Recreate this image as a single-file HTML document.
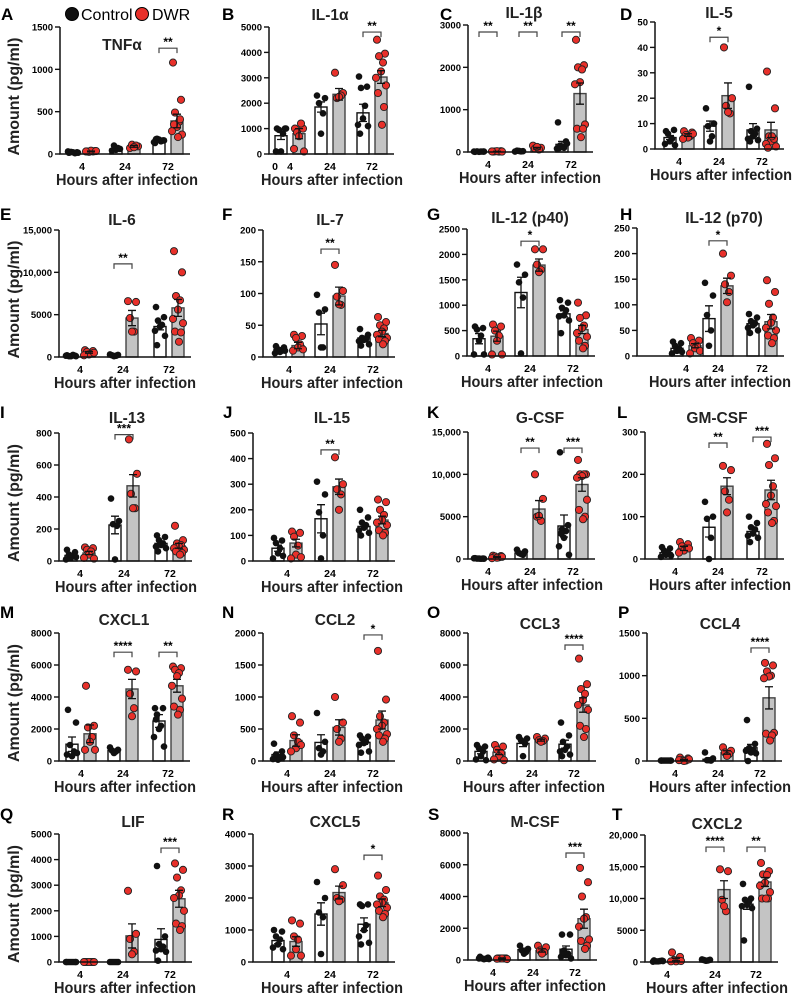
<!DOCTYPE html>
<html><head><meta charset="utf-8">
<style>
html,body{margin:0;padding:0;background:#fff;}
svg{display:block;font-family:"Liberation Sans",Arial,sans-serif;}
</style></head>
<body>
<svg id="fig" width="797" height="994" viewBox="0 0 797 994" xmlns="http://www.w3.org/2000/svg"></svg>
<script>
// ===== DATA =====
const panelLetters = ["A","B","C","D","E","F","G","H","I","J","K","L","M","N","O","P","Q","R","S","T"];
const panelTitles = ["TNFα","IL-1α","IL-1β","IL-5","IL-6","IL-7","IL-12 (p40)","IL-12 (p70)","IL-13","IL-15","G-CSF","GM-CSF","CXCL1","CCL2","CCL3","CCL4","LIF","CXCL5","M-CSF","CXCL2"];
const hourLabels = ["4","24","72"];
const yMaxes = [1500,5000,3000,50,15000,200,2500,250,800,500,15000,300,8000,2000,8000,1500,5000,4000,8000,20000];
const yTickSteps = [500,1000,1000,10,5000,50,500,50,200,100,5000,100,2000,500,2000,500,1000,1000,2000,5000];
const ctrlMeans = [[20,60,160],[720,1850,1620],[10,20,180],[4.5,9,7.5],[150,200,3600],[12,52,30],[340,1250,830],[15,73,63],[35,225,110],[50,165,135],[50,700,3900],[15,75,65],[1050,650,2500],[100,290,290],[600,1100,1050],[5,20,155],[0,0,880],[670,1500,1180],[100,650,680],[150,300,9100]];
const ctrlSems = [[5,15,10],[150,200,340],[2,5,70],[0.8,2,2.5],[30,50,400],[3,17,3],[100,300,60],[3,25,4],[10,55,15],[12,55,10],[20,150,1300],[3,23,8],[450,80,400],[40,120,30],[150,200,250],[1,10,40],[0,0,420],[100,350,200],[30,100,200],[50,80,800]];
const dwrMeans = [[30,90,390],[800,2350,3030],[15,90,1380],[5.5,21,7.5],[550,4600,5800],[18,96,37],[390,1790,520],[20,137,67],[50,470,95],[70,290,160],[250,5900,8800],[25,172,163],[1700,4500,4700],[320,525,640],[550,1300,3500],[15,100,740],[0,1020,2470],[640,2170,1850],[100,600,2600],[400,11400,12600]];
const dwrSems = [[5,10,80],[200,230,250],[3,20,250],[0.5,5,3],[100,900,1000],[5,14,5],[100,120,80],[4,15,14],[10,70,15],[15,30,15],[50,1000,800],[5,20,23],[550,600,400],[90,120,140],[150,60,450],[5,20,130],[0,470,330],[150,200,120],[30,100,600],[200,1400,700]];
const ctrlPoints = [
 [[15,20,25,10,20,30,15],[40,60,100,70,50],[130,160,180,150,170,140,160,175]],
 [[1000,1000,950,800,100,100,1000],[2300,2200,2000,1600,800],[3050,2650,2600,1900,1400,1150,1100,800]],
 [[5,10,15,10,5,10,10],[10,20,30,15,25],[700,250,150,100,120,80,200,90]],
 [[7,7.5,6,4,3,2,1.5],[16,10,9,5,3],[24.5,8,7,6,5,4,3.5,3]],
 [[200,150,100,250,100,150,100],[300,250,200,150,100],[5900,4700,4300,3800,3600,3100,2500,1400]],
 [[17,15,12,10,8,6,10],[98,75,70,15,15],[44,35,30,28,27,25,20,18]],
 [[580,550,520,400,300,30,30],[1800,1600,1450,1150,50],[1100,1050,950,900,800,780,700,450]],
 [[28,25,20,15,10,5,8],[143,118,80,50,20],[82,75,68,64,60,55,50,45]],
 [[70,55,40,30,20,10,25],[390,250,230,220,10],[160,150,130,110,100,90,80,60]],
 [[90,80,70,50,30,10,20],[310,260,190,100,10],[200,170,150,140,130,120,110,100]],
 [[100,50,50,30,50,80,40],[1100,900,700,500,600],[12600,4000,3500,3300,2500,1500,500,3000]],
 [[28,25,20,15,10,5,8],[135,100,95,50,0],[100,85,75,70,60,55,50,40]],
 [[3200,2400,1000,600,300,400,500],[850,700,650,600,500],[3300,3300,2900,2200,2000,1500,900,2600]],
 [[270,150,100,50,20,30,60],[750,300,200,150,100],[400,380,350,300,280,250,150,130]],
 [[1000,900,800,600,300,100,50],[1500,1400,1300,1100,300],[2400,1600,1200,900,700,600,400,300]],
 [[5,5,5,5,5,5,5],[100,30,10,5,10],[480,200,150,130,100,120,90,0]],
 [[0,0,0,0,0,0,0],[0,0,0,0,0],[3750,1000,700,600,500,450,400,50]],
 [[1000,950,800,700,550,450,400],[2500,2000,1550,1400,250],[1800,1800,1750,1150,1000,800,600,550]],
 [[200,150,100,80,50,100,60],[900,700,600,500,400],[1600,1600,600,400,300,200,100,500]],
 [[250,200,100,150,100,50,150],[400,350,300,250,200],[12300,10000,9800,9500,9000,8800,8500,3400]]
];
const dwrPoints = [
 [[30,35,25,30,40,30,35],[70,90,110,100,80],[1080,640,490,380,320,270,230,350,410,200]],
 [[1000,1000,850,1200,700,200,100],[3200,2400,2200,2300,2250],[4500,3950,3850,3600,3250,3000,2700,2400,1850,1150]],
 [[10,20,15,10,20,15,10],[150,100,80,60,120],[2650,2050,2000,1950,1650,1600,650,550,550,350]],
 [[7,6.5,5.5,5,4.5,4,6],[40,20,17,14,14.5],[30.5,16,5,4,3,2,1,0.5,4,5]],
 [[800,700,600,400,300,200,500],[6600,6500,4600,3000,3000],[12500,10000,7200,6700,5600,4500,4000,3000,2900,1800]],
 [[35,33,30,20,15,10,12],[145,104,95,82,83],[63,55,50,45,40,35,30,28,25,20]],
 [[620,580,500,400,300,30,30],[2100,2100,1800,1700,1650],[1050,800,750,600,550,450,380,300,200,150]],
 [[35,30,25,20,15,5,10],[200,157,140,125,105],[148,125,102,75,65,55,50,40,35,25]],
 [[85,80,70,60,40,20,15],[760,545,420,330,330],[220,130,110,100,90,80,70,60,50,40]],
 [[115,110,95,60,25,10,15],[405,300,280,260,200],[240,230,200,180,160,150,140,120,110,100]],
 [[400,350,300,200,150,100,250],[10000,7100,5000,4500,5100],[11700,10000,10000,10000,9800,9600,7000,5800,5000,4700]],
 [[40,35,30,25,20,15,25],[220,210,160,140,110],[272,238,222,172,150,130,125,110,90,85]],
 [[4700,2200,2100,1500,1200,700,700],[5700,5600,4200,3300,2800],[5900,5800,5700,5500,5300,4700,3900,3400,3200,2900]],
 [[700,600,400,300,200,150,250],[1000,600,500,350,300],[1720,960,700,600,550,500,420,400,350,300]],
 [[1000,900,700,500,300,100,50],[1500,1400,1300,1250,1200],[6400,4800,4500,4200,3800,3500,3200,2200,2000,1500]],
 [[40,30,10,5,0,10,20],[160,120,100,80,60],[1150,1120,1050,1000,990,970,330,320,300,240]],
 [[0,0,0,0,0,0,0],[2780,1100,900,400,300],[3850,3600,3300,2800,2600,2500,2000,1500,1400,1250]],
 [[1300,1200,800,700,400,200,200],[2900,2400,2000,1950,1900],[2700,2250,2050,1950,1850,1800,1700,1600,1500,1400]],
 [[100,100,100,100,100,80,60],[900,800,600,500,400],[5800,4900,4000,2700,2600,2100,1300,1200,900,700]],
 [[1500,800,300,200,100,100,150],[14600,14300,9800,8000,8800],[15600,14300,13800,13700,12500,12000,11000,10000,10000,10000]]
];
const sigLabels = [["","","**"],["","","**"],["**","**","**"],["","*",""],["","**",""],["","**",""],["","*",""],["","*",""],["","***",""],["","**",""],["","**","***"],["","**","***"],["","****","**"],["","","*"],["","","****"],["","","****"],["","","***"],["","","*"],["","","***"],["","****","**"]];
const sigLevels = [[0,0,1250],[0,0,4800],[2835,2835,2835],[0,44,0],[0,11000,0],[0,170,0],[0,2260,0],[0,225,0],[0,790,0],[0,434,0],[0,13100,13100],[0,274,288],[0,6800,6800],[0,0,1970],[0,0,7250],[0,0,1325],[0,0,4450],[0,0,3340],[0,0,6740],[0,18100,18100]];

// ===== LAYOUT (pixel geometry, not data) =====
// [axisX, topY, bottomY, g4, g24, g72, titleX, titleY, letterX, letterY]
const layout = [
 [60,27,154,82,125,168,122,50,1,20],[269,27,154,290,330,372,330,20,222,20],[468,25,152,488,528,571,524,18,440,20],[655,22,149,679,719,762,719,18,620,20],
 [59,230,357,80,123,169,122,225,0,220],[263,230,357,289,330,373,330,225,222,220],[467,229,356,488,530,573,530,223,427,220],[637,228,356,686,718,762,724,223,620,220],
 [59,433,561,80,124,170,127,423,0,418],[253,433,561,287,330,373,332,423,223,418],[468,432,559,488,530,573,540,423,427,418],[645,432,559,675,718,762,717,423,617,418],
 [59,633,761,81,123,168,124,625,0,618],[263,633,761,287,330,373,335,625,222,618],[468,633,761,490,532,574,540,629,427,618],[647,633,761,675,718,760,720,629,618,618],
 [59,834,962,80,123,170,133,827,0,820],[253,834,962,287,330,373,335,827,222,820],[468,833,960,493,533,575,535,827,428,820],[645,835,962,667,715,756,717,829,612,820]
];
const jitter = [-4,4,-2,2,0,-5,5,-3,3,1];

const NS = "http://www.w3.org/2000/svg";
const svg = document.getElementById("fig");
function mk(tag, attrs, parent){
  const e = document.createElementNS(NS, tag);
  for (const k in attrs) e.setAttribute(k, attrs[k]);
  (parent||svg).appendChild(e);
  return e;
}
function fmt(v){ return v>=10000 ? v.toLocaleString("en-US") : String(v); }

// Legend
const leg = mk("g",{});


let c1 = mk("circle",{cx:72,cy:14,r:6.5,fill:"#111",stroke:"#000"},leg);


let t1 = mk("text",{x:81,y:20,"font-size":"16"},leg); t1.textContent="Control";


let c2 = mk("circle",{cx:142,cy:14,r:6.5,fill:"#e8302a",stroke:"#000"},leg);


let t2 = mk("text",{x:152,y:20,"font-size":"16"},leg); t2.textContent="DWR";



for (let p=0;p<20;p++){
  const L = layout[p];
  const ax=L[0], top=L[1], bot=L[2], gx=[L[3],L[4],L[5]];
  const ymax=yMaxes[p];
  const yS = v => bot - (v/ymax)*(bot-top);
  const right = gx[2]+22;
  const g = mk("g",{});
  
  

  const lt = mk("text",{x:L[8],y:L[9],"font-size":"17","font-weight":"bold"},g);
  lt.textContent = panelLetters[p];
  
  

  const tt = mk("text",{x:L[6],y:L[7],"font-size":"15.5","font-weight":"bold","text-anchor":"middle",fill:"#222"},g);
  tt.textContent = panelTitles[p];
  
  

  for (let i=0;i<3;i++){
    const cx=gx[i]-9, dx=gx[i]+9;
    const cb = mk("rect",{x:cx-6,y:yS(ctrlMeans[p][i]),width:12,height:Math.max(0,bot-yS(ctrlMeans[p][i])),fill:"#fff",stroke:"#111","stroke-width":1.4},g);
    
    
    const db = mk("rect",{x:dx-6,y:yS(dwrMeans[p][i]),width:12,height:Math.max(0,bot-yS(dwrMeans[p][i])),fill:"#c4c4c4",stroke:"#444","stroke-width":1.4},g);
    
    
    ctrlPoints[p][i].forEach((v,k)=>{
      const pt = mk("circle",{cx:cx+jitter[k%10],cy:yS(v),r:3.3,fill:"#111"},g);
      
      
    });
    dwrPoints[p][i].forEach((v,k)=>{
      const pt = mk("circle",{cx:dx+jitter[k%10],cy:yS(v),r:3.6,fill:"#e8302a",stroke:"#222","stroke-width":0.9},g);
      
      
    });
    [[cx,ctrlMeans[p][i],ctrlSems[p][i]],[dx,dwrMeans[p][i],dwrSems[p][i]]].forEach(([x,m,s])=>{
      if (s<=0) return;
      const a=yS(m+s), b=yS(Math.max(0,m-s));
      const eb = mk("path",{d:`M${x},${a}V${b}M${x-4},${a}H${x+4}M${x-4},${b}H${x+4}`,stroke:"#111","stroke-width":1.3,fill:"none"},g);
      
      
    });
    if (sigLabels[p][i]){
      const by = yS(sigLevels[p][i]);
      const br = mk("path",{d:`M${cx},${by+5}V${by}H${dx}V${by+5}`,stroke:"#444","stroke-width":1.2,fill:"none"},g);
      
      
      const st = mk("text",{x:gx[i],y:by-2,"font-size":"12","font-weight":"bold","text-anchor":"middle"},g);
      st.textContent = sigLabels[p][i];
      
      
    }
    const xl = mk("text",{x:gx[i],y:bot+16,"font-size":"10.5","font-weight":"bold","text-anchor":"middle"},g);
    xl.textContent = hourLabels[i];
    
    
  }
  const axis = mk("path",{d:`M${ax},${top}V${bot}H${right}`,stroke:"#111","stroke-width":1.5,fill:"none"},g);
  
  
  for (let v=0; v<=ymax+1e-9; v+=yTickSteps[p]){
    const y=yS(v);
    const tk = mk("line",{x1:ax-5,x2:ax,y1:y,y2:y,stroke:"#111","stroke-width":1.4},g);
    
    
    const tl = mk("text",{x:ax-7,y:y+3.5,"font-size":"9.5","font-weight":"bold","text-anchor":"end"},g);
    tl.textContent = fmt(v);
    
    
  }
  const xt = mk("text",{x:gx[1]+2,y:bot+31,"font-size":"16","font-weight":"bold","text-anchor":"middle",fill:"#222",textLength:142,lengthAdjust:"spacingAndGlyphs"},g);
  xt.textContent = "Hours after infection";
  
  
  if (p%4===0){
    const cy=(top+bot)/2+6;
    const yt = mk("text",{x:0,y:0,"font-size":"16","font-weight":"bold","text-anchor":"middle",fill:"#222",transform:`translate(19,${cy}) rotate(-90)`,textLength:118,lengthAdjust:"spacingAndGlyphs"},g);
    yt.textContent = "Amount (pg/ml)";
    
    
  }
}
const z = mk("text",{x:275,y:170,"font-size":"10.5","font-weight":"bold","text-anchor":"middle"});
z.textContent="0";


</script>
</body></html>
